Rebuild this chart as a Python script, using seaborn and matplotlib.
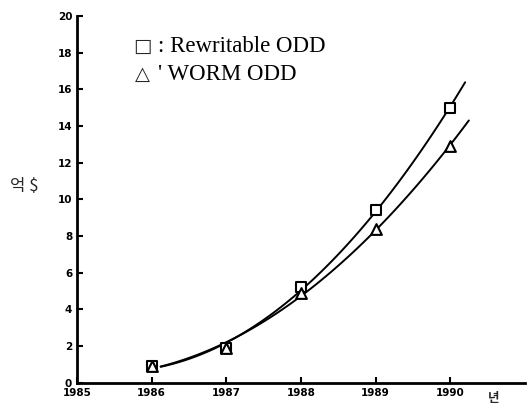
"""
Recreates the optical disk drive price chart (Rewritable vs WORM ODD).
"""

import numpy as np
import pandas as pd
import seaborn as sns
import matplotlib.pyplot as plt

years = [1986, 1987, 1988, 1989, 1990]
rewritable = [0.9, 1.9, 5.2, 9.4, 15.0]
worm = [0.9, 1.9, 4.9, 8.4, 12.9]

symbols = ["□", "△"]
labels = [": Rewritable ODD", "' WORM ODD"]


def smooth_curve(x, y, x_end):
    """Quadratic fit through the read points, drawn a little past 1990."""
    coef = np.polyfit(x, y, 2)
    xs = np.linspace(x[0] + 0.12, x_end, 100)
    return pd.DataFrame({"year": xs, "value": np.polyval(coef, xs)})


def main():
    sns.set_theme(style="ticks")
    plt.rcParams["font.family"] = ["DejaVu Sans", "Noto Sans CJK KR"]

    fig = plt.figure(figsize=(5.28, 4.09), dpi=100)
    ax = fig.add_axes([0.146, 0.064, 0.848, 0.897])

    df = pd.DataFrame({"year": years, "Rewritable": rewritable,
                       "WORM": worm})

    # fitted curves
    rw_curve = smooth_curve(years, rewritable, 1990.2)
    wm_curve = smooth_curve(years, worm, 1990.25)
    sns.lineplot(data=rw_curve, x="year", y="value", ax=ax, color="black",
                 lw=1.4)
    sns.lineplot(data=wm_curve, x="year", y="value", ax=ax, color="black",
                 lw=1.4)

    # measured points
    sns.scatterplot(data=df, x="year", y="Rewritable", ax=ax, marker="s",
                    s=45, facecolor="white", edgecolor="black", linewidth=1.5,
                    zorder=3)
    sns.scatterplot(data=df, x="year", y="WORM", ax=ax, marker="^",
                    s=60, facecolor="white", edgecolor="black", linewidth=1.5,
                    zorder=4)

    ax.set_xlim(1985, 1991)
    ax.set_ylim(0, 20)
    ax.set_xticks(range(1985, 1991))
    ax.set_yticks(range(0, 21, 2))
    ax.tick_params(direction="in", length=4, width=1.5, labelsize=7.5,
                   colors="black")
    for lab in ax.get_xticklabels() + ax.get_yticklabels():
        lab.set_fontweight("bold")
    ax.set_xlabel("")
    ax.set_ylabel("")
    for side in ["left", "bottom"]:
        ax.spines[side].set_linewidth(2)
        ax.spines[side].set_color("black")
    sns.despine(ax=ax)

    fig.text(0.045, 0.545, "억 $", fontsize=12, ha="center", va="center",
             family=["Noto Sans CJK KR", "DejaVu Sans"])
    fig.text(0.935, 0.025, "년", fontsize=9, fontweight="bold",
             ha="center", va="center",
             family=["Noto Sans CJK KR", "DejaVu Sans"])

    # hand-drawn style legend
    for i, (sym, lab) in enumerate(zip(symbols, labels)):
        y = 0.918 - i * 0.077
        ax.text(0.146, y, sym, transform=ax.transAxes, fontsize=14,
                va="center", ha="center", fontweight="bold",
                family=["DejaVu Sans"])
        ax.text(0.18, y, lab, transform=ax.transAxes, fontsize=16.5,
                va="center", color="black",
                family=["Liberation Serif", "DejaVu Sans"])

    fig.savefig("out.png", dpi=100, facecolor="white")


if __name__ == "__main__":
    main()
